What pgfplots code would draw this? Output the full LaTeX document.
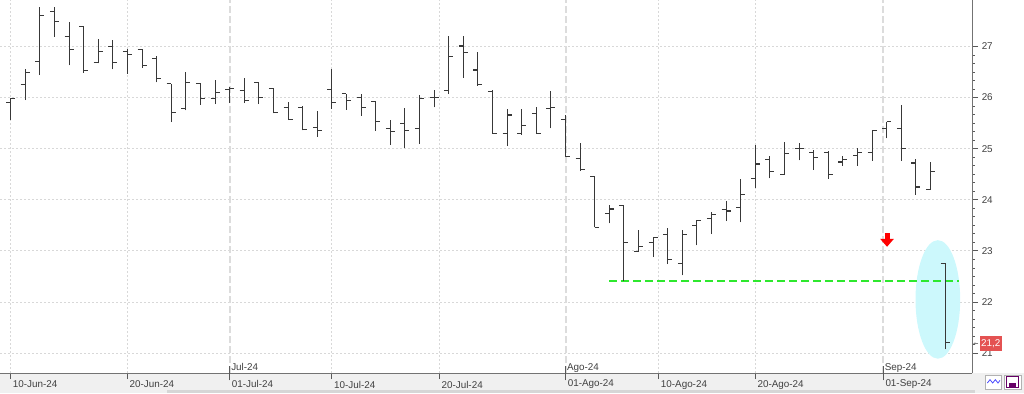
\documentclass[border=0pt]{standalone}
\usepackage{fontspec}
\setmainfont{Liberation Sans}
\usepackage{pgfplots}
\pgfplotsset{compat=1.18}
\usepackage{pgfplotstable}
\usetikzlibrary{arrows.meta}

\pgfdeclareplotmark{otick}{\pgfpathmoveto{\pgfqpoint{-\pgfplotmarksize}{0pt}}\pgfpathlineto{\pgfqpoint{0pt}{0pt}}\pgfusepathqstroke}
\pgfdeclareplotmark{ctick}{\pgfpathmoveto{\pgfqpoint{0pt}{0pt}}\pgfpathlineto{\pgfqpoint{\pgfplotmarksize}{0pt}}\pgfusepathqstroke}

\pgfplotstableread{
i O H L C
0 25.91 26.00 25.56 25.98
1 26.26 26.55 25.95 26.49
2 26.70 27.77 26.44 27.60
3 27.68 27.78 27.19 27.49
4 27.20 27.47 26.63 26.95
5 27.40 27.40 26.49 26.53
6 26.68 27.15 26.67 26.90
7 27.00 27.13 26.55 26.68
8 26.90 26.95 26.47 26.84
9 26.95 26.95 26.58 26.62
10 26.76 26.81 26.30 26.37
11 26.27 26.27 25.52 25.70
12 25.78 26.50 25.75 26.30
13 26.28 26.29 25.86 25.99
14 25.99 26.34 25.87 26.10
15 26.16 26.20 25.89 26.17
16 26.14 26.39 25.89 25.95
17 26.29 26.30 25.87 26.00
18 26.18 26.19 25.69 25.70
19 25.80 25.91 25.56 25.57
20 25.81 25.84 25.36 25.38
21 25.42 25.73 25.23 25.35
22 26.16 26.56 25.78 25.91
23 26.08 26.08 25.76 25.95
24 26.00 26.07 25.64 25.81
25 25.93 25.94 25.35 25.53
26 25.40 25.56 25.08 25.33
27 25.50 25.80 25.01 25.35
28 25.40 26.06 25.10 25.98
29 26.00 26.15 25.81 26.00
30 26.14 27.21 26.07 26.80
31 27.01 27.21 26.39 26.89
32 26.54 26.89 26.23 26.26
33 26.12 26.15 25.29 25.29
34 25.29 25.77 25.05 25.66
35 25.29 25.77 25.27 25.45
36 25.68 25.81 25.30 25.30
37 25.78 26.13 25.40 25.80
38 25.58 25.66 24.84 24.84
39 24.81 25.12 24.56 24.59
40 24.46 24.46 23.46 23.46
41 23.73 23.90 23.54 23.82
42 23.89 23.90 22.41 23.17
43 22.98 23.41 22.98 23.09
44 23.17 23.27 22.88 23.27
45 23.32 23.44 22.74 22.83
46 22.76 23.41 22.52 23.32
47 23.49 23.60 23.11 23.59
48 23.63 23.77 23.33 23.71
49 23.81 23.97 23.58 23.78
50 23.85 24.40 23.56 24.10
51 24.42 25.08 24.24 24.70
52 24.79 24.86 24.42 24.56
53 24.49 25.14 24.49 24.91
54 25.00 25.12 24.77 25.00
55 24.93 24.97 24.59 24.82
56 24.93 24.95 24.41 24.50
57 24.74 24.86 24.67 24.79
58 24.87 25.01 24.67 24.92
59 24.92 25.36 24.76 25.36
60 25.39 25.53 25.20 25.53
61 25.39 25.86 24.76 25.00
62 24.72 24.80 24.10 24.25
63 24.20 24.74 24.20 24.56
64 22.75 22.77 21.07 21.20
}\ohlc

\definecolor{barc}{HTML}{383838}
\definecolor{gridc}{HTML}{D8D8D8}
\definecolor{monthc}{HTML}{DCDCDC}
\definecolor{limec}{HTML}{2EE82E}
\definecolor{ellc}{HTML}{CCF8FC}
\definecolor{tagred}{HTML}{E45252}

\begin{document}
\begin{tikzpicture}[x=1pt,y=1pt]
\useasboundingbox (0,-15) rectangle (768,279.75);
\fill[black!6] (0,-15) rectangle (768,0);
\fill[black!16] (125.25,-15) rectangle (731,-12.9);
\begin{axis}[
  at={(0,0)}, anchor=south west, scale only axis,
  width=729pt, height=279.75pt,
  xmin=-0.73, xmax=65.84, ymin=20.61, ymax=27.91,
  axis x line=bottom, axis y line=right,
  axis line style={-, draw=black!55, line width=0.75pt},
  tick align=outside,
  major tick length=4.5pt, minor tick length=2pt,
  tick style={draw=black!65, line width=0.6pt},
  xtick={0,8,22,29.36,44.38,51},
  xticklabels={10-Jun-24,20-Jun-24,10-Jul-24,20-Jul-24,10-Ago-24,20-Ago-24},
  extra x ticks={15,38,59.76},
  extra x tick labels={01-Jul-24,01-Ago-24,01-Sep-24},
  extra x tick style={major tick length=11pt, tick align=center,
     xticklabel style={yshift=1.6pt},
     major grid style={draw=monthc, line width=1.5pt, dash pattern=on 5pt off 2.5pt}},
  ytick={21,...,27},
  minor y tick num=5,
  grid=major,
  major grid style={draw=gridc, line width=0.6pt, dash pattern=on 1.5pt off 1.5pt},
  ticklabel style={font=\fontsize{7.4}{8}\selectfont, text=black!75},
  xticklabel style={anchor=north west, inner sep=0pt, xshift=1.5pt, yshift=-1.2pt},
  yticklabel style={anchor=west, inner sep=0pt, xshift=2.6pt},
  /pgf/number format/assume math mode=true,
  clip mode=individual,
]
\fill[ellc] (axis cs:63.5,22.05) ellipse [x radius=1.53, y radius=1.16];
\addplot[limec, line width=2pt, dash pattern=on 6pt off 3pt] coordinates {(41,22.41) (64.97,22.41)};
\addplot[draw=none, mark=none, forget plot, error bars/.cd, y dir=plus, y explicit, error mark=none,
   error bar style={draw=barc, line width=0.8pt, solid}]
   table[x=i, y=L, y error expr=\thisrow{H}-\thisrow{L}] {\ohlc};
\addplot[only marks, mark=otick, mark size=3.4pt, mark options={draw=barc, line width=0.8pt}] table[x=i, y=O] {\ohlc};
\addplot[only marks, mark=ctick, mark size=3.4pt, mark options={draw=barc, line width=0.8pt}] table[x=i, y=C] {\ohlc};
\addplot[red, line width=3.8pt, -{Triangle[width=10pt, length=6pt]}] coordinates {(60.02,23.35) (60.02,23.08)};
\node[anchor=base west, inner sep=0pt, font=\fontsize{7.4}{8}\selectfont, text=black!75, xshift=1pt, yshift=2.2pt] at (axis cs:15,20.61) {Jul-24};
\node[anchor=base west, inner sep=0pt, font=\fontsize{7.4}{8}\selectfont, text=black!75, xshift=1pt, yshift=2.2pt] at (axis cs:38,20.61) {Ago-24};
\node[anchor=base west, inner sep=0pt, font=\fontsize{7.4}{8}\selectfont, text=black!75, xshift=1pt, yshift=2.2pt] at (axis cs:59.76,20.61) {Sep-24};
\node[anchor=west, fill=tagred, text=white, inner sep=0pt, minimum width=16.8pt, minimum height=11.25pt, font=\fontsize{7.4}{8}\selectfont, xshift=5.5pt] at (axis cs:65.84,21.19) {21,2};
\draw[black!50, line width=0.5pt, -{Stealth[length=1.8pt]}] ([xshift=4.8pt]axis cs:65.84,21.19) -- ([xshift=0.8pt]axis cs:65.84,21.19);
\end{axis}
% bottom-right icons
\draw[black!30, fill=white, line width=0.4pt] (739,-12) rectangle (751,-1.5);
\draw[blue!70, line width=0.6pt] (740.5,-7.5) -- (742.5,-5) -- (744.5,-7.5) -- (746.5,-5) -- (748.5,-7.5) -- (750,-5.5);
\draw[black!30, fill=white, line width=0.4pt] (753,-12) rectangle (766,-1.5);
\draw[violet!80!black, line width=1.1pt] (755,-10.8) rectangle (764,-2.7);
\fill[violet!80!black] (757,-10.8) rectangle (762,-7.5);
\end{tikzpicture}
\end{document}
